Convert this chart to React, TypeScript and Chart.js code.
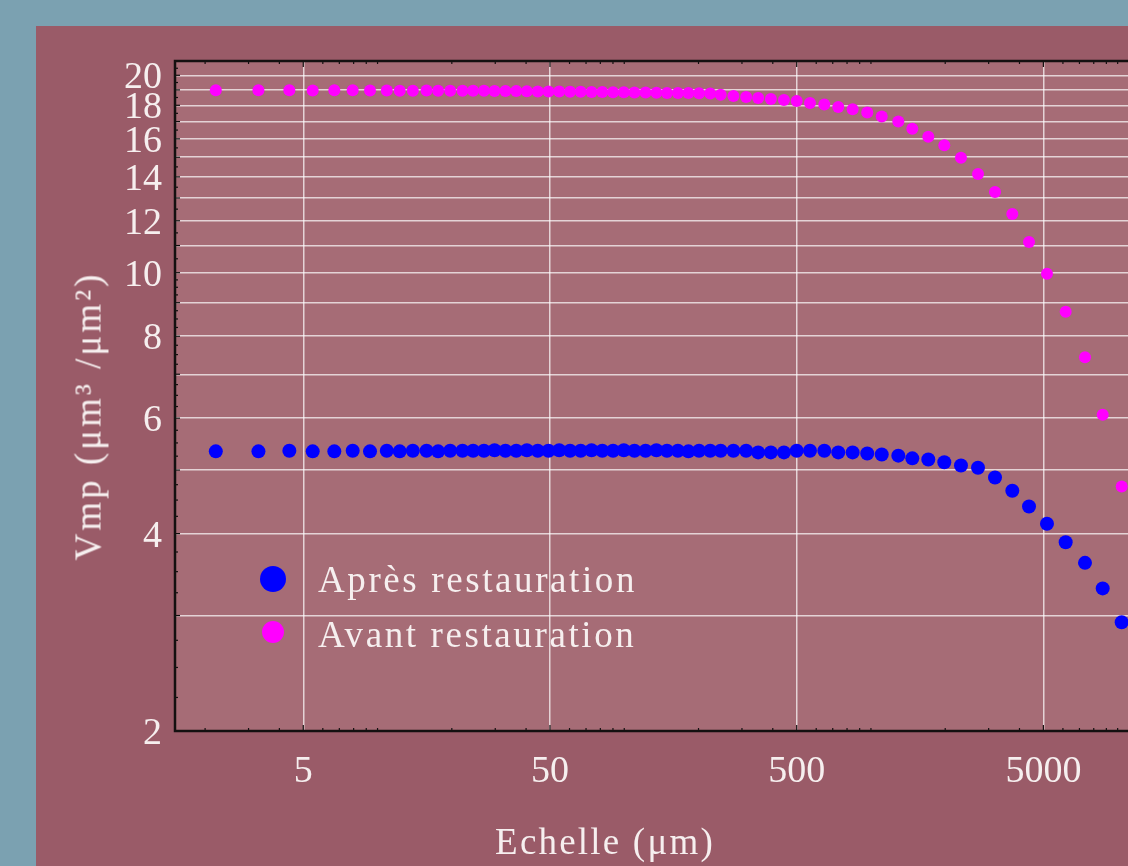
import React, { useEffect, useRef } from "react";
import { Chart, registerables } from "chart.js";

Chart.register(...registerables);

// Échelle (µm) — shared abscissa of both series
const echelles = [
  2.21, 3.29, 4.39, 5.46, 6.68, 7.93, 9.32, 10.9, 12.3, 13.9, 15.8, 17.6, 19.7, 22.1, 24.4,
  27.0, 29.8, 33.0, 36.5, 40.3, 44.6, 49.3, 54.5, 60.3, 66.6, 73.7, 81.5, 90.1, 99.6, 110,
  122, 135, 149, 165, 182, 201,
  223, 246, 277, 312, 349, 393, 444, 500, 566, 647, 737, 843, 966, 1106, 1291, 1471, 1708,
  1983, 2317, 2716, 3183, 3741, 4372, 5170, 6156, 7372, 8697, 10385,
];

// Vmp après restauration (µm³/µm²)
const vmpApres = [
  5.34, 5.34, 5.35, 5.34, 5.34, 5.35, 5.34, 5.35, 5.34, 5.35, 5.35, 5.34, 5.35, 5.35, 5.35,
  5.35, 5.36, 5.35, 5.35, 5.36, 5.35, 5.35, 5.36, 5.35, 5.35, 5.36, 5.35, 5.35, 5.36, 5.35,
  5.35, 5.36, 5.35, 5.35, 5.34, 5.35,
  5.35, 5.35, 5.35, 5.35, 5.32, 5.32, 5.32, 5.35, 5.35, 5.35, 5.32, 5.32, 5.3, 5.28, 5.26,
  5.21, 5.19, 5.14, 5.08, 5.04, 4.87, 4.65, 4.4, 4.14, 3.88, 3.61, 3.3, 2.93,
];

// Vmp avant restauration (µm³/µm²)
const vmpAvant = [
  18.98, 18.97, 18.98, 18.96, 18.97, 18.97, 18.96, 18.96, 18.95, 18.95, 18.96, 18.94, 18.95, 18.94, 18.94,
  18.94, 18.93, 18.93, 18.92, 18.91, 18.9, 18.9, 18.89, 18.88, 18.87, 18.86, 18.86, 18.85, 18.84, 18.83,
  18.82, 18.81, 18.8, 18.8, 18.79, 18.78,
  18.76, 18.68, 18.6, 18.53, 18.46, 18.4, 18.34, 18.27, 18.15, 18.05, 17.89, 17.75, 17.55, 17.3, 17.0,
  16.58, 16.12, 15.64, 14.97, 14.14, 13.28, 12.29, 11.14, 9.96, 8.72, 7.43, 6.07, 4.72,
];

const seriesNames = ["Après restauration", "Avant restauration"];
const xTitle = "Echelle (μm)";
const yTitle = "Vmp (μm³ /μm²)";
const xLabelTicks = [5, 50, 500, 5000];
const yGridTicks = [2, 3, 4, 5, 6, 7, 8, 9, 10, 11, 12, 13, 14, 15, 16, 17, 18, 19, 20];
const yLabelTicks = [2, 4, 6, 8, 10, 12, 14, 16, 18, 20];

const TEAL = "#7ba1b1";
const PANEL = "#9a5b68";
const PLOT = "#a66c76";
const GRID = "rgba(255,255,255,0.7)";
const TEXT = "#f6efef";
const BLUE = "#0000ff";
const MAGENTA = "#ff00ff";
const SERIF = "'Liberation Serif', 'Times New Roman', serif";

const plotBg = {
  id: "plotBg",
  beforeDraw(chart: any) {
    const { ctx, chartArea: a } = chart;
    ctx.save();
    ctx.fillStyle = PLOT;
    ctx.fillRect(a.left, a.top, a.right - a.left, a.bottom - a.top);
    ctx.restore();
  },
};

const frame = {
  id: "frame",
  afterDraw(chart: any) {
    const { ctx, chartArea: a, scales } = chart;
    const x = scales.x;
    const y = scales.y;
    const line = (x1: number, y1: number, x2: number, y2: number) => {
      ctx.beginPath();
      ctx.moveTo(x1, y1);
      ctx.lineTo(x2, y2);
      ctx.stroke();
    };
    ctx.save();
    ctx.strokeStyle = "#141010";
    ctx.lineWidth = 1.2;
    const yMinor: number[] = [];
    for (let i = 0; i <= 32; i++) yMinor.push(2 + i * 0.25);
    for (let i = 1; i <= 22; i++) yMinor.push(10 + i * 0.5);
    yMinor.forEach((v) => {
      if (v > y.max) return;
      const py = y.getPixelForValue(v);
      const len = Number.isInteger(v) ? 5 : 3;
      line(a.left, py, a.left + len, py);
      line(a.right, py, a.right - len, py);
    });
    for (let d = 1; d <= 10000; d *= 10) {
      for (let k = 1; k <= 9; k++) {
        const v = k * d;
        if (v < x.min || v > x.max) continue;
        const px = x.getPixelForValue(v);
        const len = k === 5 ? 6 : 3;
        line(px, a.bottom, px, a.bottom - len);
        line(px, a.top, px, a.top + len);
      }
    }
    ctx.lineWidth = 2.5;
    ctx.strokeRect(a.left, a.top, a.right - a.left, a.bottom - a.top);
    ctx.restore();
  },
};

export default function App() {
  const ref = useRef<HTMLCanvasElement>(null);

  useEffect(() => {
    const canvas = ref.current;
    if (!canvas) return;
    const chart = new Chart(canvas, {
      type: "scatter",
      data: {
        datasets: [
          {
            label: seriesNames[0],
            data: echelles.map((e, i) => ({ x: e, y: vmpApres[i] })),
            backgroundColor: BLUE,
            borderColor: BLUE,
            borderWidth: 0,
            pointRadius: 7,
            pointHoverRadius: 7,
          },
          {
            label: seriesNames[1],
            data: echelles.map((e, i) => ({ x: e, y: vmpAvant[i] })),
            backgroundColor: MAGENTA,
            borderColor: MAGENTA,
            borderWidth: 0,
            pointRadius: 6,
            pointHoverRadius: 6,
          },
        ],
      },
      options: {
        responsive: false,
        animation: false,
        devicePixelRatio: 1,
        events: [],
        layout: { padding: { left: 0, top: 61, right: 30, bottom: 0 } },
        plugins: { legend: { display: false }, tooltip: { enabled: false } },
        scales: {
          x: {
            type: "logarithmic",
            position: "bottom",
            min: 1.51,
            max: 16300,
            afterBuildTicks: (s: any) => {
              s.ticks = xLabelTicks.map((v) => ({ value: v }));
            },
            afterFit: (s: any) => {
              s.height = 135;
            },
            ticks: {
              autoSkip: false,
              maxRotation: 0,
              minRotation: 0,
              padding: 18,
              color: TEXT,
              font: { family: SERIF, size: 38 },
              callback: (v: any) => String(v),
            },
            grid: { color: GRID, lineWidth: 1.5, drawTicks: false },
            border: { display: false },
          },
          y: {
            type: "logarithmic",
            position: "left",
            min: 2,
            max: 21.03,
            afterBuildTicks: (s: any) => {
              s.ticks = yGridTicks.map((v) => ({ value: v }));
            },
            afterFit: (s: any) => {
              s.width = 175;
            },
            ticks: {
              autoSkip: false,
              padding: 13,
              labelOffset: 3,
              color: TEXT,
              font: { family: SERIF, size: 38 },
              callback: (v: any) => (yLabelTicks.includes(Number(v)) ? String(v) : ""),
            },
            grid: { color: GRID, lineWidth: 1.5, drawTicks: false },
            border: { display: false },
          },
        },
      } as any,
      plugins: [plotBg, frame],
    });
    return () => chart.destroy();
  }, []);

  const textStyle: React.CSSProperties = {
    position: "absolute",
    fontFamily: SERIF,
    fontSize: 37,
    lineHeight: "37px",
    color: TEXT,
    whiteSpace: "nowrap",
    letterSpacing: "2.6px",
  };

  return (
    <div
      style={{
        position: "fixed",
        left: 0,
        top: 0,
        width: 1128,
        height: 866,
        overflow: "hidden",
        background: TEAL,
      }}
    >
      <div
        style={{
          position: "absolute",
          left: 36,
          top: 26,
          width: 1200,
          height: 900,
          background: PANEL,
        }}
      />
      <canvas
        ref={ref}
        width={1200}
        height={866}
        style={{ position: "absolute", left: 0, top: 0, width: 1200, height: 866 }}
      />
      <div
        style={{
          ...textStyle,
          left: 88,
          top: 416,
          transform: "translate(-50%, -50%) rotate(-90deg)",
          letterSpacing: "3px",
        }}
      >
        {yTitle}
      </div>
      <div style={{ ...textStyle, left: 605, top: 823, transform: "translateX(-50%)", letterSpacing: "2.2px" }}>
        {xTitle}
      </div>
      <div
        style={{
          position: "absolute",
          left: 273 - 13,
          top: 579 - 13,
          width: 26,
          height: 26,
          borderRadius: "50%",
          background: BLUE,
        }}
      />
      <div
        style={{
          position: "absolute",
          left: 273 - 11,
          top: 632 - 11,
          width: 22,
          height: 22,
          borderRadius: "50%",
          background: MAGENTA,
        }}
      />
      <div style={{ ...textStyle, left: 318, top: 561 }}>{seriesNames[0]}</div>
      <div style={{ ...textStyle, left: 318, top: 616 }}>{seriesNames[1]}</div>
    </div>
  );
}
